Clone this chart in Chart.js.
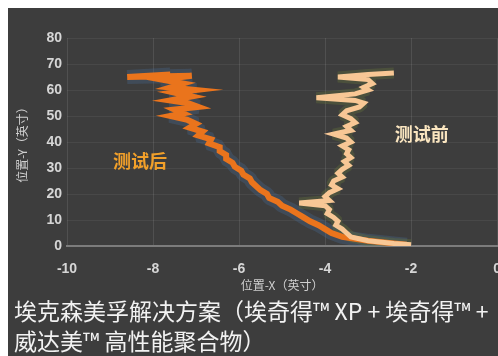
<!DOCTYPE html>
<html>
<head>
<meta charset="utf-8">
<script src="https://cdn.jsdelivr.net/npm/chart.js@4/dist/chart.umd.min.js"></script>
<style>
  html, body { margin: 0; padding: 0; background: #ffffff; overflow: hidden; }
  #panel {
    position: absolute; left: 8px; top: 8px; width: 490px; height: 348px;
    background: #3d3d3d; overflow: hidden;
  }
  #chart { position: absolute; left: 0; top: 0; }
  #caption {
    position: absolute; left: 6px; top: 287px; width: 600px;
    color: #f2f2f2; font-family: "Noto Sans CJK SC", "Noto Sans", sans-serif;
    font-size: 23px; line-height: 30px; white-space: nowrap;
  }
</style>
</head>
<body>
<div id="panel">
  <canvas id="chart" width="508" height="348"></canvas>
  <div id="caption">埃克森美孚解决方案（埃奇得™ XP + 埃奇得™ +<br>威达美™ 高性能聚合物）</div>
</div>
<script>
// Position traces (inches): measured X position at each Y position
const afterY  = [66, 65, 65.5, 64, 62.5, 61, 60, 59, 57.5, 56, 55, 53.5, 52.5, 51, 50, 48.5, 47, 45.5, 44, 42.5, 41, 39.5, 38, 36.5, 35, 33.5, 32, 30.5, 29, 27.5, 26, 24.5, 23, 21.5, 20, 18.5, 17, 15.5, 14, 12.5, 11, 9.5, 8, 6.5, 5, 3.5, 2, 1, 0.5];
const afterX  = [-7.6, -8.6, -7.1, -7.8, -7.3, -7.6, -7.0, -7.5, -7.1, -7.6, -7.2, -6.95, -7.5, -7.3, -7.6, -7.2, -7.0, -7.15, -6.85, -6.95, -6.65, -6.7, -6.45, -6.45, -6.3, -6.3, -6.15, -6.1, -5.95, -5.9, -5.75, -5.7, -5.6, -5.5, -5.35, -5.3, -5.1, -5.0, -4.8, -4.65, -4.5, -4.35, -4.15, -4.0, -3.85, -3.6, -3.0, -2.4, -2.1];

const beforeY = [66.5, 66, 65, 64, 62.5, 61, 60, 58.5, 57, 56, 55, 53.5, 52, 50.5, 49, 47.5, 46, 44.5, 43, 41.5, 40, 38.5, 37, 35.5, 34, 32.5, 31, 29.5, 28, 26.5, 25, 23.5, 22, 20.5, 19, 17.5, 16.5, 15.5, 14, 12.5, 11, 9.5, 8, 6.5, 5, 3.5, 2, 1, 0.5];
const beforeX = [-2.4, -3.0, -3.7, -3.0, -2.9, -3.1, -3.0, -3.3, -4.2, -3.3, -3.1, -3.2, -3.5, -3.6, -3.4, -3.3, -3.5, -3.4, -3.8, -3.5, -3.4, -3.6, -3.45, -3.5, -3.4, -3.55, -3.45, -3.6, -3.7, -3.6, -3.8, -3.85, -3.7, -3.9, -4.0, -3.9, -4.6, -4.0, -3.9, -3.95, -3.8, -3.7, -3.75, -3.6, -3.5, -3.4, -3.0, -2.4, -2.0];

const xTicks = [-10, -8, -6, -4, -2, 0];
const yTicks = [0, 10, 20, 30, 40, 50, 60, 70, 80];

const seriesNames = ['测试后', '测试前'];
const xTitle = '位置-X（英寸）';
const yTitle = '位置-Y（英寸）';

const toPoints = (xs, ys) => xs.map((x, i) => ({ x: x, y: ys[i] }));

const AFTER = '#ea741c';
const BEFORE = '#f8c795';

// Series names written next to each trace
const traceLabels = {
  id: 'traceLabels',
  afterDatasetsDraw(chart) {
    const { ctx, scales: { x, y } } = chart;
    const items = [
      { text: seriesNames[0], x: -8.3, y: 32.7, color: '#f2a02a' },
      { text: seriesNames[1], x: -1.75, y: 43.2, color: '#fbe6c0' }
    ];
    ctx.save();
    ctx.font = 'bold 18px "Noto Sans CJK SC", sans-serif';
    ctx.textAlign = 'center';
    ctx.textBaseline = 'middle';
    items.forEach(it => {
      ctx.fillStyle = it.color;
      ctx.fillText(it.text, x.getPixelForValue(it.x), y.getPixelForValue(it.y));
    });
    ctx.restore();
  }
};

const tickFont = { family: '"Liberation Sans", Arial, sans-serif', size: 14, weight: 'bold' };
const titleFont = { family: '"Noto Sans CJK SC", sans-serif', size: 12 };

const trace = (label, xs, ys, color, width, order, join) => ({
  label, data: toPoints(xs, ys), showLine: true, order,
  borderColor: color, borderWidth: width, borderJoinStyle: join,
  pointRadius: 0, tension: 0
});

new Chart(document.getElementById('chart'), {
  type: 'scatter',
  data: {
    datasets: [
      // main traces (drawn on top), sharp joins give the ragged edge
      trace(seriesNames[0], afterX, afterY, AFTER, 6, 1, 'miter'),
      trace(seriesNames[1], beforeX, beforeY, BEFORE, 5, 0, 'miter'),
      // soft halos underneath
      trace(seriesNames[0] + ' halo', afterX, afterY, 'rgba(70,105,145,0.32)', 14, 3, 'bevel'),
      trace(seriesNames[1] + ' halo', beforeX, beforeY, 'rgba(105,120,60,0.32)', 11, 2, 'bevel')
    ]
  },
  options: {
    responsive: false,
    animation: false,
    devicePixelRatio: 1,
    layout: { padding: { left: 0, right: 18, top: 30, bottom: 60 } },
    plugins: { legend: { display: false }, tooltip: { enabled: false }, title: { display: false } },
    scales: {
      x: {
        type: 'linear', min: -10, max: 0,
        afterBuildTicks: (axis) => { axis.ticks = xTicks.map(v => ({ value: v })); },
        afterFit: (axis) => { axis.height = 50; },
        ticks: { color: '#d6d6d6', font: tickFont, padding: 15 },
        grid: { color: 'rgba(255,255,255,0.10)', drawTicks: false },
        border: { color: '#7c7c7c', width: 2 },
        title: { display: true, text: xTitle, color: '#d0d0d0', font: titleFont, padding: { top: 0, bottom: 3 } }
      },
      y: {
        type: 'linear', min: 0, max: 80,
        afterBuildTicks: (axis) => { axis.ticks = yTicks.map(v => ({ value: v })); },
        afterFit: (axis) => { axis.width = 59; },
        ticks: { color: '#d6d6d6', font: tickFont, padding: 5 },
        grid: { color: 'rgba(255,255,255,0.06)', drawTicks: false },
        border: { display: false },
        title: { display: true, text: yTitle, color: '#d0d0d0', font: titleFont, padding: { top: 7, bottom: 0 } }
      }
    }
  },
  plugins: [traceLabels]
});
</script>
</body>
</html>
